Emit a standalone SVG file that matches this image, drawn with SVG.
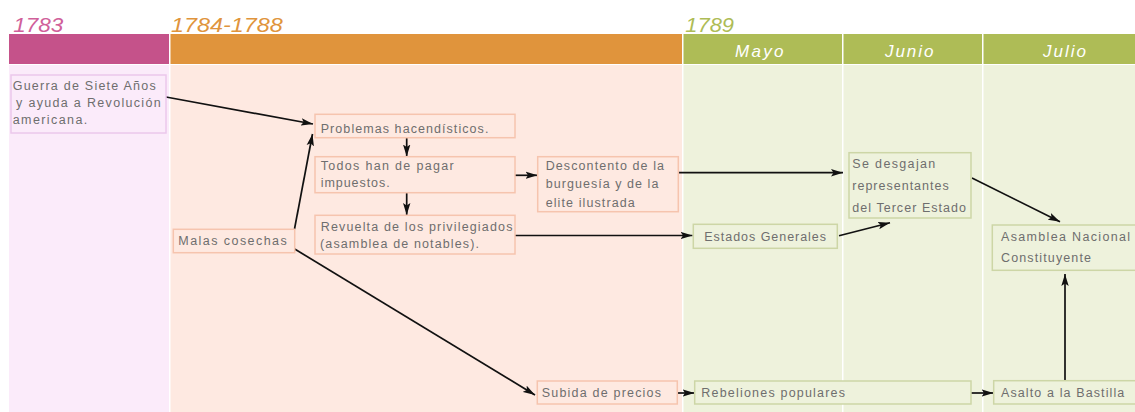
<svg xmlns="http://www.w3.org/2000/svg" width="1135" height="412" viewBox="0 0 1135 412">
<style>
.t{font-family:"Liberation Sans",Arial,sans-serif;font-size:12.5px;fill:#6e6e6e}
.yr{font-family:"Liberation Sans",Arial,sans-serif;font-style:italic;font-size:21px}
.mo{font-family:"Liberation Sans",Arial,sans-serif;font-style:italic;font-size:17px;fill:#ffffff}
.bo{fill:#fee9e1;stroke:#f6c4ae;stroke-width:1.5}
.bp{fill:#fbebfa;stroke:#ebc8eb;stroke-width:1.5}
.bg{fill:#eef2dc;stroke:#cdd6a6;stroke-width:1.5}
.c{fill:none;stroke:#111;stroke-width:1.7;marker-end:url(#ah)}
</style>
<defs>
<marker id="ah" markerUnits="userSpaceOnUse" markerWidth="12" markerHeight="8" refX="12" refY="4" orient="auto">
<path d="M0,0.3 L12,4 L0,7.7 L2.5,4 z" fill="#111"/>
</marker>
</defs>
<rect width="1135" height="412" fill="#ffffff"/>
<g id="background">
<rect x="9" y="34" width="160" height="30" fill="#c5528a"/>
<rect x="170.5" y="34" width="511.5" height="30" fill="#e0943c"/>
<rect x="683.5" y="34" width="158.5" height="30" fill="#aebc56"/>
<rect x="843.5" y="34" width="138.5" height="30" fill="#aebc56"/>
<rect x="983.5" y="34" width="151.5" height="30" fill="#aebc56"/>
<rect x="9" y="65" width="160" height="347" fill="#fbebfa"/>
<rect x="170.5" y="65" width="511.5" height="347" fill="#fee9e1"/>
<rect x="683.5" y="65" width="158.5" height="347" fill="#eef2dc"/>
<rect x="843.5" y="65" width="138.5" height="347" fill="#eef2dc"/>
<rect x="983.5" y="65" width="151.5" height="347" fill="#eef2dc"/>
<text class="yr" x="13.3" y="31.7" fill="#d0609a" textLength="50" lengthAdjust="spacingAndGlyphs">1783</text>
<text class="yr" x="171" y="31.7" fill="#e0943c" textLength="111.7" lengthAdjust="spacingAndGlyphs">1784-1788</text>
<text class="yr" x="685.3" y="32" fill="#aebc56" textLength="48.7" lengthAdjust="spacingAndGlyphs">1789</text>
<text class="mo" x="735" y="57" textLength="48.5" lengthAdjust="spacing">Mayo</text>
<text class="mo" x="885" y="57" textLength="48.4" lengthAdjust="spacing">Junio</text>
<text class="mo" x="1043" y="57" textLength="43" lengthAdjust="spacing">Julio</text>
</g>
<g id="connectors">
<path class="c" d="M166,97 L313,124"/>
<path class="c" d="M294.5,229 L312.5,134"/>
<path class="c" d="M294.7,249 L535,395"/>
<path class="c" d="M406.7,137.7 L406.7,156.5"/>
<path class="c" d="M406.7,192.7 L406.7,215"/>
<path class="c" d="M515,175.3 L537.5,175.3"/>
<path class="c" d="M515,235.5 L692.5,235.5"/>
<path class="c" d="M678.3,172.7 L843,172.7"/>
<path class="c" d="M839,235.7 L890,222.7"/>
<path class="c" d="M972,178 L1060,221.7"/>
<path class="c" d="M677.3,393 L694.5,393"/>
<path class="c" d="M971,393 L993.5,393"/>
<path class="c" d="M1065,380.7 L1065,274"/>
</g>
<g id="guerra">
<rect class="bp" x="11" y="75" width="155" height="58"/>
<text class="t" x="12.7" y="90" textLength="143" lengthAdjust="spacing">Guerra de Siete Años</text>
<text class="t" x="16" y="107.3" textLength="144.7" lengthAdjust="spacing">y ayuda a Revolución</text>
<text class="t" x="12.7" y="124" textLength="74.6" lengthAdjust="spacing">americana.</text>
</g>
<g id="problemas">
<rect class="bo" x="315" y="114.3" width="200" height="23.4"/>
<text class="t" x="320.7" y="132.7" textLength="167.7" lengthAdjust="spacing">Problemas hacendísticos.</text>
</g>
<g id="todos">
<rect class="bo" x="315" y="156.7" width="200" height="36"/>
<text class="t" x="320.7" y="170" textLength="133" lengthAdjust="spacing">Todos han de pagar</text>
<text class="t" x="320.7" y="187.3" textLength="69" lengthAdjust="spacing">impuestos.</text>
</g>
<g id="descontento">
<rect class="bo" x="537.7" y="156.7" width="140.6" height="55"/>
<text class="t" x="545.7" y="170" textLength="118.3" lengthAdjust="spacing">Descontento de la</text>
<text class="t" x="545.7" y="188" textLength="112.7" lengthAdjust="spacing">burguesía y de la</text>
<text class="t" x="545.7" y="206.5" textLength="89" lengthAdjust="spacing">elite ilustrada</text>
</g>
<g id="revuelta">
<rect class="bo" x="315" y="215.3" width="200" height="38.7"/>
<text class="t" x="320.7" y="230.7" textLength="191.7" lengthAdjust="spacing">Revuelta de los privilegiados</text>
<text class="t" x="320" y="248.3" textLength="159" lengthAdjust="spacing">(asamblea de notables).</text>
</g>
<g id="malas">
<rect class="bo" x="173.3" y="229.3" width="121.4" height="23.4"/>
<text class="t" x="178.3" y="244.5" textLength="108.4" lengthAdjust="spacing">Malas cosechas</text>
</g>
<g id="subida">
<rect class="bo" x="537.3" y="381" width="140" height="23"/>
<text class="t" x="541.7" y="396.7" textLength="119.3" lengthAdjust="spacing">Subida de precios</text>
</g>
<g id="estados">
<rect class="bg" x="693.3" y="224.3" width="144" height="24"/>
<text class="t" x="704.3" y="240.5" textLength="121.7" lengthAdjust="spacing">Estados Generales</text>
</g>
<g id="desgajan">
<rect class="bg" x="849" y="152.7" width="122" height="65.3"/>
<text class="t" x="852.3" y="168.3" textLength="83" lengthAdjust="spacing">Se desgajan</text>
<text class="t" x="852.3" y="190" textLength="96.4" lengthAdjust="spacing">representantes</text>
<text class="t" x="852.3" y="211.7" textLength="113.7" lengthAdjust="spacing">del Tercer Estado</text>
</g>
<g id="rebeliones">
<rect class="bg" x="694.7" y="381" width="276.3" height="23"/>
<text class="t" x="701.3" y="396.7" textLength="143.7" lengthAdjust="spacing">Rebeliones populares</text>
</g>
<g id="asamblea">
<rect class="bg" x="992.3" y="225" width="150" height="45.3"/>
<text class="t" x="1001" y="240.5" textLength="129" lengthAdjust="spacing">Asamblea Nacional</text>
<text class="t" x="1001" y="262" textLength="90" lengthAdjust="spacing">Constituyente</text>
</g>
<g id="asalto">
<rect class="bg" x="993.7" y="380.7" width="150" height="23.3"/>
<text class="t" x="1001" y="396.7" textLength="123.3" lengthAdjust="spacing">Asalto a la Bastilla</text>
</g>
</svg>
